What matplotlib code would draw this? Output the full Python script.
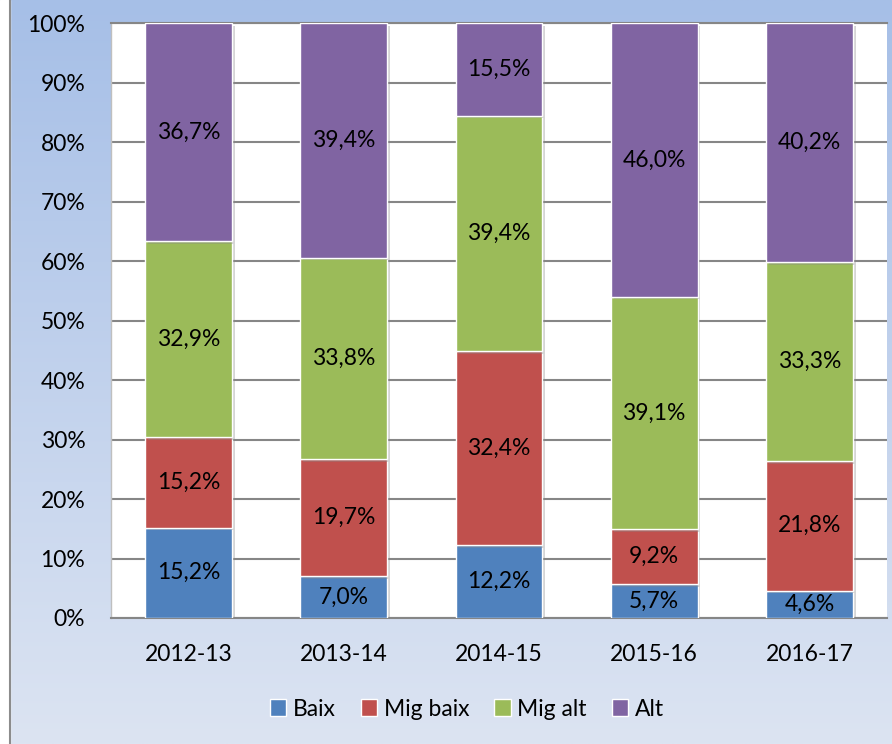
import matplotlib
matplotlib.use("Agg")
import matplotlib.pyplot as plt
import numpy as np
from matplotlib import patheffects as pe
from matplotlib.patches import Rectangle

plt.rcParams['font.family'] = ['Lato', 'DejaVu Sans']

categories = ["2012-13", "2013-14", "2014-15", "2015-16", "2016-17"]
series_names = ["Baix", "Mig baix", "Mig alt", "Alt"]
baix = [15.2, 7.0, 12.2, 5.7, 4.6]
mig_baix = [15.2, 19.7, 32.4, 9.2, 21.8]
mig_alt = [32.9, 33.8, 39.4, 39.1, 33.3]
alt = [36.7, 39.4, 15.5, 46.0, 40.2]
colors = ["#4F81BD", "#C0504D", "#9BBB59", "#8064A2"]
yticks = [0, 10, 20, 30, 40, 50, 60, 70, 80, 90, 100]

W, H = 892, 744
FS = 16.5
fig = plt.figure(figsize=(W / 100, H / 100), dpi=100)

# background gradient
bg = fig.add_axes([0, 0, 1, 1], zorder=-10)
top_c = np.array([0xA6, 0xBF, 0xE7]) / 255
bot_c = np.array([0xDC, 0xE4, 0xF2]) / 255
t = np.linspace(0, 1, 256)[:, None]
grad = top_c[None, :] * (1 - t) + bot_c[None, :] * t
img = np.repeat(grad[:, None, :], 2, axis=1)
bg.imshow(img, aspect='auto', extent=[0, 1, 0, 1], origin='upper')
bg.add_patch(Rectangle((0, 0), 9.5 / W, 1, color='white', zorder=2))
bg.plot([9.5 / W, 9.5 / W], [0, 1], color='#8C8C8C', lw=1.5, zorder=3)
bg.set_xlim(0, 1)
bg.set_ylim(0, 1)
bg.axis('off')

ax = fig.add_axes([111 / W, 1 - 618 / H, (887 - 111) / W, (618 - 23) / H])
ax.set_facecolor('white')

data = np.array([baix, mig_baix, mig_alt, alt], dtype=float)
totals = data.sum(axis=0)
pct = data / totals * 100

x = np.arange(len(categories))
bottom = np.zeros(len(categories))
for i, name in enumerate(series_names):
    bars = ax.bar(x, pct[i], 0.56, bottom=bottom, color=colors[i], edgecolor='white',
                  linewidth=1.0, label=name, zorder=3)
    for b in bars:
        b.set_path_effects([pe.SimplePatchShadow(offset=(2, -2), shadow_rgbFace='#888888', alpha=0.35),
                            pe.Normal()])
    for j in range(len(categories)):
        ax.text(x[j], bottom[j] + pct[i][j] / 2, f"{data[i][j]:.1f}%".replace('.', ','),
                ha='center', va='center', fontsize=FS, color='black', zorder=5)
    bottom += pct[i]

ax.set_xlim(-0.5, len(categories) - 0.5)
ax.set_ylim(0, 100)
ax.set_yticks(yticks)
ax.set_yticklabels([f"{v}%" for v in yticks], fontsize=FS)
ax.set_xticks(x)
ax.set_xticklabels(categories, fontsize=FS)
ax.tick_params(axis='y', length=0, pad=18.5)
ax.tick_params(axis='x', length=0, pad=19)
ax.yaxis.grid(True, color='#868686', lw=1.5, zorder=1)
ax.set_axisbelow(True)
for s in ['top', 'bottom']:
    ax.spines[s].set_color('#868686')
    ax.spines[s].set_linewidth(1.5)
ax.spines['left'].set_color('#BFBFBF')
ax.spines['left'].set_linewidth(1.0)
ax.spines['right'].set_visible(False)

handles = [Rectangle((0, 0), 1, 1, facecolor=c, edgecolor='white', lw=1.0) for c in colors]
fig.legend(handles, series_names, loc='center', bbox_to_anchor=(467 / W, 1 - 709 / H),
           ncol=4, frameon=False, fontsize=FS, handlelength=0.7, handleheight=0.7,
           handletextpad=0.3, columnspacing=1.1)

fig.savefig("out.png", dpi=100)
